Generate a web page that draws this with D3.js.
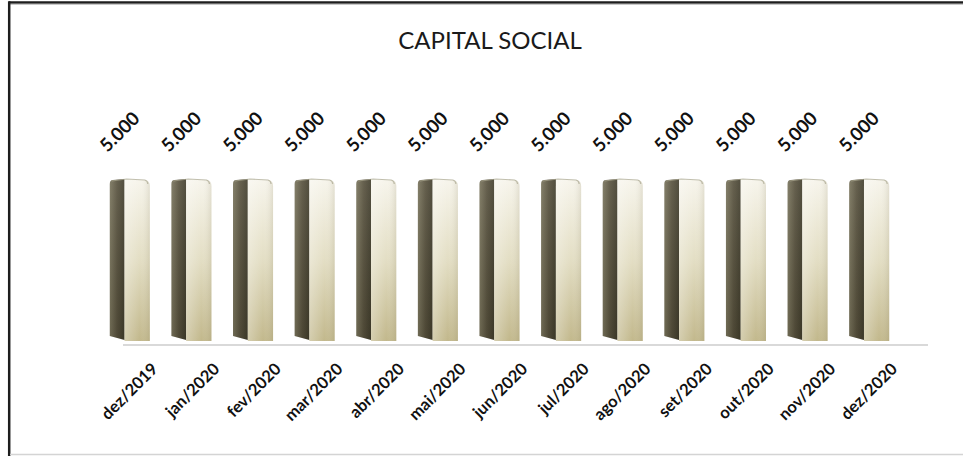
<!DOCTYPE html>
<html lang="pt">
<head>
<meta charset="UTF-8">
<title>Capital Social</title>
<script src="https://cdnjs.cloudflare.com/ajax/libs/d3/7.9.0/d3.min.js"></script>
<style>
  html,body{margin:0;padding:0;background:#fff;}
  svg{display:block;font-family:Lato,"Open Sans","Liberation Sans",sans-serif;}
</style>
</head>
<body>
<div id="chart"></div>
<script>
/* ---------- data ---------- */
const months = ["dez/2019","jan/2020","fev/2020","mar/2020","abr/2020","mai/2020","jun/2020",
                "jul/2020","ago/2020","set/2020","out/2020","nov/2020","dez/2020"];
const capital = [5000,5000,5000,5000,5000,5000,5000,5000,5000,5000,5000,5000,5000];
const yDomain = [0, 6000];

/* ---------- setup ---------- */
const W = 963, H = 456;
const svg = d3.select("#chart").append("svg").attr("width",W).attr("height",H);

const defs = svg.append("defs");
// front face: light cream at top fading to tan
const gFront = defs.append("linearGradient").attr("id","front").attr("x1",0).attr("y1",0).attr("x2",0).attr("y2",1);
gFront.append("stop").attr("offset","0%").attr("stop-color","#f7f5ec");
gFront.append("stop").attr("offset","50%").attr("stop-color","#e3dec4");
gFront.append("stop").attr("offset","100%").attr("stop-color","#c2b88c");
// horizontal shading over front
const gFrontH = defs.append("linearGradient").attr("id","frontH").attr("x1",0).attr("y1",0).attr("x2",1).attr("y2",0);
gFrontH.append("stop").attr("offset","0%").attr("stop-color","#fff").attr("stop-opacity",0.3);
gFrontH.append("stop").attr("offset","60%").attr("stop-color","#fff").attr("stop-opacity",0);
gFrontH.append("stop").attr("offset","100%").attr("stop-color","#8a8262").attr("stop-opacity",0.18);
// side face: dark olive
const gSide = defs.append("linearGradient").attr("id","side").attr("x1",0).attr("y1",0).attr("x2",1).attr("y2",0);
gSide.append("stop").attr("offset","0%").attr("stop-color","#77725a");
gSide.append("stop").attr("offset","50%").attr("stop-color","#554f3b");
gSide.append("stop").attr("offset","100%").attr("stop-color","#3f3b2a");
const gSideV = defs.append("linearGradient").attr("id","sideV").attr("x1",0).attr("y1",0).attr("x2",0).attr("y2",1);
gSideV.append("stop").attr("offset","0%").attr("stop-color","#fff").attr("stop-opacity",0.1);
gSideV.append("stop").attr("offset","100%").attr("stop-color","#000").attr("stop-opacity",0.08);

/* ---------- frame ---------- */
svg.append("line").attr("x1",9).attr("x2",W).attr("y1",2.5).attr("y2",2.5)
  .attr("stroke","#1e1e1e").attr("stroke-width",2.5);
svg.append("line").attr("x1",9).attr("x2",W).attr("y1",4.3).attr("y2",4.3)
  .attr("stroke","#bcbcbc").attr("stroke-width",1);
svg.append("line").attr("x1",9.2).attr("x2",9.2).attr("y1",1.3).attr("y2",H)
  .attr("stroke","#1e1e1e").attr("stroke-width",2.5);
svg.append("line").attr("x1",10).attr("x2",W).attr("y1",454.5).attr("y2",454.5)
  .attr("stroke","#d4d4d4").attr("stroke-width",1.5);

/* ---------- title ---------- */
svg.append("text").attr("x",490).attr("y",48.5).attr("text-anchor","middle")
  .attr("font-size",24).attr("fill","#1a1a1a").text("CAPITAL SOCIAL");

/* ---------- scales ---------- */
const x = d3.scaleBand().domain(months).range([99,900]).paddingInner(0.35).paddingOuter(0.175);
const y = d3.scaleLinear().domain(yDomain).range([340,148]);

// baseline (floor)
svg.append("line")
  .attr("x1",x.range()[0]+24).attr("x2",x.range()[1]+28)
  .attr("y1",y(0)+5).attr("y2",y(0)+5)
  .attr("stroke","#d9d9d9").attr("stroke-width",2);

const data = months.map((m,i)=>({m, v:capital[i]}));
const bw = x.bandwidth();
const sideW = bw*0.37;

const bars = svg.selectAll("g.bar").data(data).enter().append("g").attr("class","bar");

// side face
const sidePath = d=>{
  const x0 = x(d.m), x1 = x0+sideW, top = y(d.v), bot = y(0);
  return `M${x0},${top+4} Q${x0},${top} ${x0+3},${top} L${x1},${top-1} L${x1},${bot} L${x0},${bot-4} Z`;
};
bars.append("path").attr("d",sidePath).attr("fill","url(#side)");
bars.append("path").attr("d",sidePath).attr("fill","url(#sideV)");

// front face
const frontPath = d=>{
  const x0 = x(d.m)+sideW, x1 = x(d.m)+bw, top = y(d.v), bot = y(0)+1;
  return `M${x0},${top-1} L${x1-4},${top} Q${x1},${top+1} ${x1},${top+6} L${x1},${bot} L${x0},${bot} Z`;
};
bars.append("path").attr("d",frontPath).attr("fill","url(#front)");
bars.append("path").attr("d",frontPath).attr("fill","url(#frontH)");

// top bevel highlight
bars.append("path")
  .attr("d",d=>{
    const x0 = x(d.m)+2, x1 = x(d.m)+bw-2, top = y(d.v);
    return `M${x0},${top+1} L${x0+sideW},${top-1} L${x1-3},${top} Q${x1},${top+1} ${x1},${top+4}`;
  })
  .attr("fill","none").attr("stroke","#a8a58f").attr("stroke-width",1.2).attr("opacity",0.7);

/* ---------- value labels ---------- */
const fmt = v => d3.format(",")(v).replace(/,/g,".");
bars.append("text")
  .attr("transform",d=>`translate(${x(d.m)+bw/2-9},${y(d.v)-47}) rotate(-45)`)
  .attr("text-anchor","middle").attr("dominant-baseline","middle")
  .attr("font-size",18.5).attr("font-weight",700).attr("fill","#111")
  .text(d=>fmt(d.v));

/* ---------- category labels ---------- */
svg.selectAll("text.cat").data(months).enter().append("text").attr("class","cat")
  .attr("transform",m=>`translate(${x(m)+bw/2+29},${y(0)+30}) rotate(-45)`)
  .attr("text-anchor","end")
  .attr("font-size",16.5).attr("font-weight",700).attr("fill","#111")
  .text(m=>m);
</script>
</body>
</html>
